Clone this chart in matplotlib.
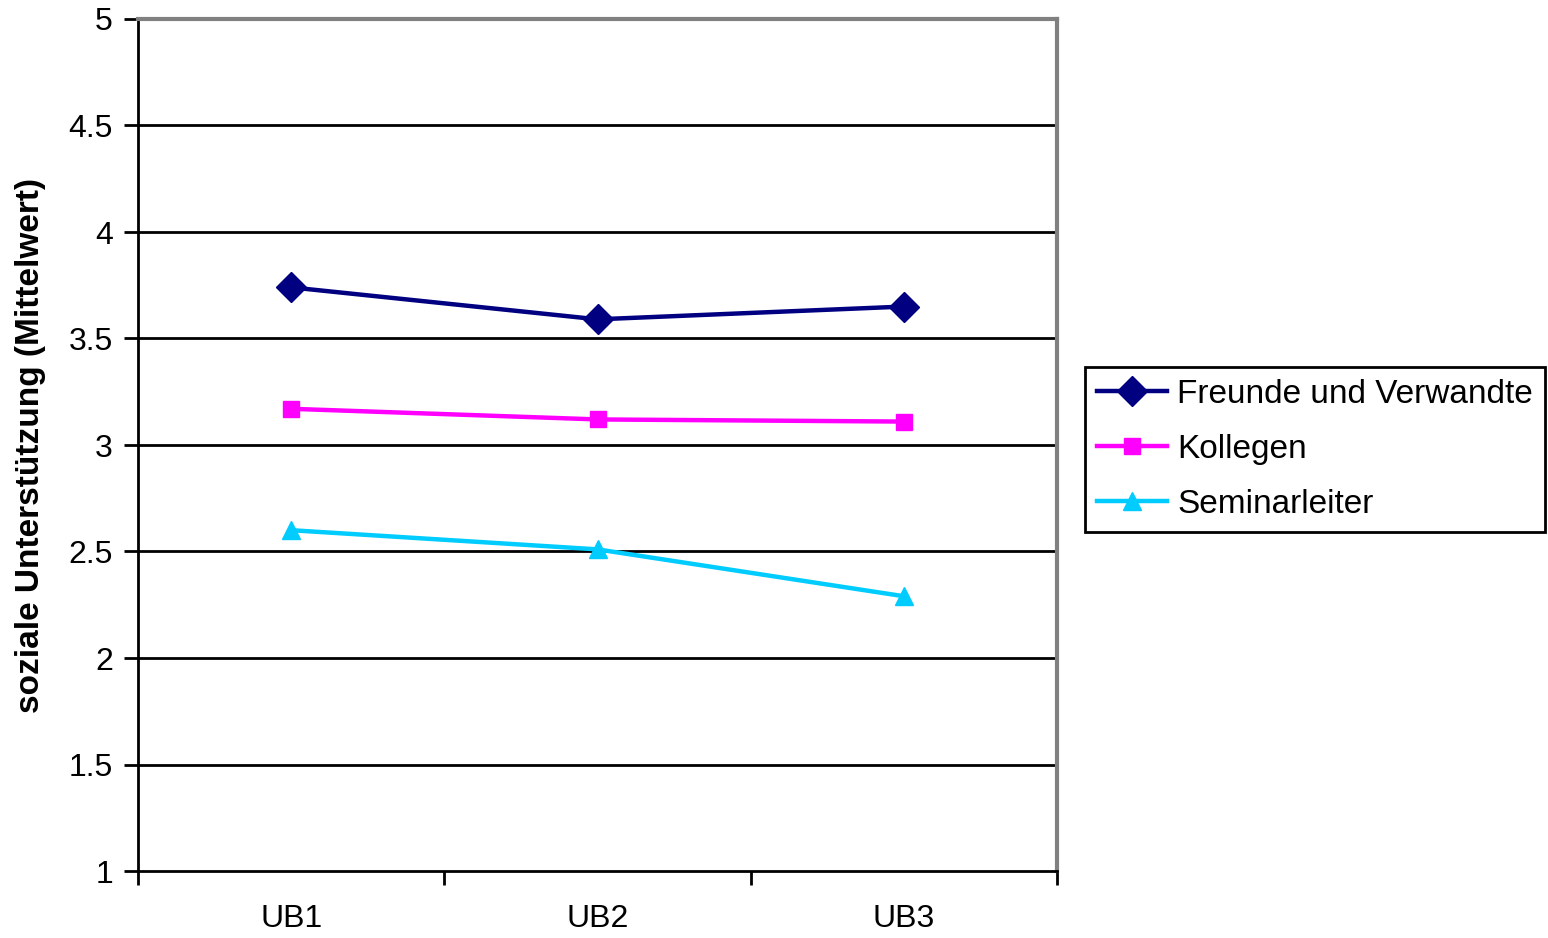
import numpy as np
import matplotlib.pyplot as plt

plt.rcParams['font.family'] = ['Liberation Sans', 'DejaVu Sans']

categories = ['UB1', 'UB2', 'UB3']
freunde = [3.74, 3.59, 3.65]
kollegen = [3.17, 3.12, 3.11]
seminarleiter = [2.60, 2.51, 2.29]

fig = plt.figure(figsize=(15.48, 9.38), dpi=100)
ax = fig.add_axes([138/1548, 1-871/938, (1057-138)/1548, (871-19)/938])

x = np.arange(len(categories))
ax.plot(x, freunde, color='#000080', lw=3.2, marker='D', ms=15, label='Freunde und Verwandte')
ax.plot(x, kollegen, color='#FF00FF', lw=3.2, marker='s', ms=11, label='Kollegen')
ax.plot(x, seminarleiter, color='#00CCFF', lw=3.2, marker='^', ms=13, label='Seminarleiter')

ax.set_ylim(1, 5)
ax.set_yticks(np.arange(1, 5.01, 0.5))
ax.set_yticklabels(['1', '1.5', '2', '2.5', '3', '3.5', '4', '4.5', '5'])
for yv in np.arange(1.5, 4.51, 0.5):
    ax.axhline(yv, color='black', lw=2, zorder=0)

ax.set_xlim(-0.5, 2.5)
ax.set_xticks([-0.5, 0.5, 1.5, 2.5])
ax.set_xticklabels([])
ax.set_xticks(x, minor=True)
ax.set_xticklabels(categories, minor=True)
ax.tick_params(axis='x', which='minor', length=0, pad=24, labelsize=23)
ax.tick_params(axis='x', which='major', length=10, width=2, direction='out')
ax.tick_params(axis='y', length=10, width=2, direction='out', labelsize=23, pad=8)

for s in ['left', 'bottom']:
    ax.spines[s].set_linewidth(2)
    ax.spines[s].set_color('black')
for s in ['right', 'top']:
    ax.spines[s].set_linewidth(3)
    ax.spines[s].set_color('#808080')

ax.set_ylabel('soziale Unterstützung (Mittelwert)', fontsize=24, fontweight='bold', labelpad=16)

leg = ax.legend(loc='center left', bbox_to_anchor=(1085/1548, 1-449/938), bbox_transform=fig.transFigure,
                fontsize=24, frameon=True, fancybox=False, edgecolor='black', framealpha=1,
                handlelength=2.1, borderpad=0.36, labelspacing=0.72, handletextpad=0.3, borderaxespad=0)
leg.get_frame().set_linewidth(2)

fig.savefig('out.png', dpi=100)
